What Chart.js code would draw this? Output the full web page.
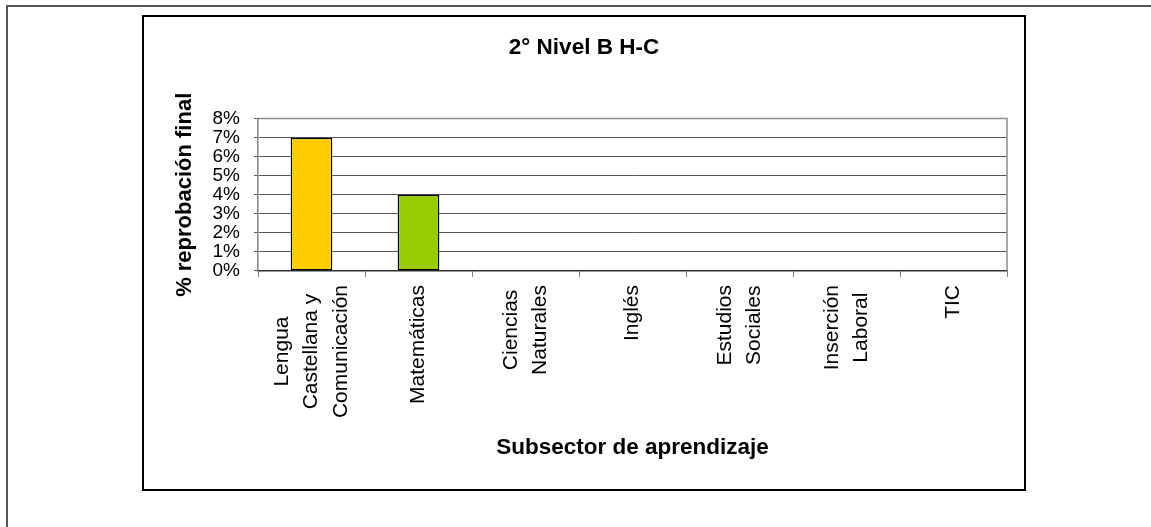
<!DOCTYPE html>
<html>
<head>
<meta charset="utf-8">
<script src="https://cdn.jsdelivr.net/npm/chart.js@4.4.1/dist/chart.umd.min.js"></script>
<style>
    body { margin: 0; background: #fff; width: 1151px; height: 527px; overflow: hidden; position: relative; }
    #page { position: absolute; left: 6px; top: 5px; right: -10px; bottom: -10px; border-left: 2px solid #555; border-top: 2px solid #555; }
    #box { position: absolute; left: 142px; top: 15px; width: 880px; height: 472px; border: 2px solid #000; }
</style>
</head>
<body>
<div id="page"></div>
<div id="box"><canvas id="chart1" width="880" height="472"></canvas></div>
<script>
const categories = [
    ['Lengua', 'Castellana y', 'Comunicación'],
    'Matemáticas',
    ['Ciencias', 'Naturales'],
    'Inglés',
    ['Estudios', 'Sociales'],
    ['Inserción', 'Laboral'],
    'TIC'
];
const reprobacion = [7, 4, 0, 0, 0, 0, 0];
const barColors = ['#FFCC00', '#99CC00', '#FFCC00', '#99CC00', '#FFCC00', '#99CC00', '#FFCC00'];
const yTicks = [0, 1, 2, 3, 4, 5, 6, 7, 8];

const FONT = "'Liberation Sans', Arial, sans-serif";
const X_LABEL_SIZE = 21;
const X_LABEL_LH = 1.4;

// borde gris arriba y a la derecha del area de trazado
const plotFrame = {
    id: 'plotFrame',
    afterDraw(chart) {
        const { ctx, chartArea: a } = chart;
        ctx.save();
        ctx.strokeStyle = '#8c8c8c';
        ctx.lineWidth = 1.5;
        ctx.beginPath();
        ctx.moveTo(a.left, a.top);
        ctx.lineTo(a.right, a.top);
        ctx.lineTo(a.right, a.bottom);
        ctx.stroke();
        ctx.restore();
    }
};

// centrar las etiquetas de varias lineas sobre la categoria (como Excel)
const centerLabels = {
    id: 'centerLabels',
    beforeDraw(chart) {
        const items = chart.scales.x.getLabelItems();
        if (items._centered) return;
        const ctx = chart.ctx;
        const lh = X_LABEL_SIZE * X_LABEL_LH;
        ctx.save();
        items.forEach(it => {
            const lines = Array.isArray(it.label) ? it.label : [it.label];
            ctx.font = it.font.string;
            const maxW = Math.max(...lines.map(l => ctx.measureText(l).width));
            it.textOffset -= (lines.length - 1) * lh / 2;
            it.options.textAlign = 'center';
            const [tx, ty] = it.options.translation;
            it.options.translation = [tx, ty + maxW / 2];
        });
        ctx.restore();
        items._centered = true;
    }
};

const chart1 = new Chart(document.querySelector('#chart1'), {
    type: 'bar',
    data: {
        labels: categories,
        datasets: [{
            label: '% reprobación final',
            data: reprobacion,
            backgroundColor: barColors,
            borderColor: '#000',
            borderWidth: (c) => c.raw > 0 ? 1.5 : 0,
            borderSkipped: false,
            barPercentage: 0.39,
            categoryPercentage: 1,
        }]
    },
    options: {
        responsive: false,
        animation: false,
        layout: { padding: { left: 17, right: 17, top: 0, bottom: 0 } },
        scales: {
            x: {
                offset: true,
                afterFit: (s) => { s.height = 218; },
                grid: {
                    drawOnChartArea: false,
                    offset: true,
                    tickLength: 6,
                    color: '#808080',
                },
                border: { color: '#333', width: 1.5 },
                ticks: {
                    color: '#000',
                    autoSkip: false,
                    maxRotation: 90,
                    minRotation: 90,
                    padding: 8,
                    font: { family: FONT, size: X_LABEL_SIZE, lineHeight: X_LABEL_LH },
                },
                title: {
                    display: true,
                    text: 'Subsector de aprendizaje',
                    color: '#000',
                    padding: { top: 0, bottom: 28 },
                    font: { family: FONT, size: 22.5, weight: 'bold', lineHeight: 1.2 },
                }
            },
            y: {
                min: 0,
                max: 8,
                afterFit: (s) => { s.width = 97; },
                afterBuildTicks: (s) => { s.ticks = yTicks.map(v => ({ value: v })); },
                grid: {
                    color: '#555',
                    tickLength: 4,
                },
                border: { color: '#808080', width: 1.5 },
                ticks: {
                    color: '#000',
                    autoSkip: false,
                    padding: 14,
                    font: { family: FONT, size: 19, lineHeight: 1 },
                    callback: (v) => v + '%',
                },
                title: {
                    display: true,
                    text: '% reprobación final',
                    color: '#000',
                    padding: { top: 11, bottom: 0 },
                    font: { family: FONT, size: 22, weight: 'bold', lineHeight: 1.2 },
                }
            }
        },
        plugins: {
            legend: { display: false },
            tooltip: { enabled: false },
            title: {
                display: true,
                text: '2° Nivel B H-C',
                color: '#000',
                padding: { top: 17, bottom: 57.6 },
                font: { family: FONT, size: 22.5, weight: 'bold', lineHeight: 1.2 },
            }
        }
    },
    plugins: [plotFrame, centerLabels],
});
</script>
</body>
</html>
